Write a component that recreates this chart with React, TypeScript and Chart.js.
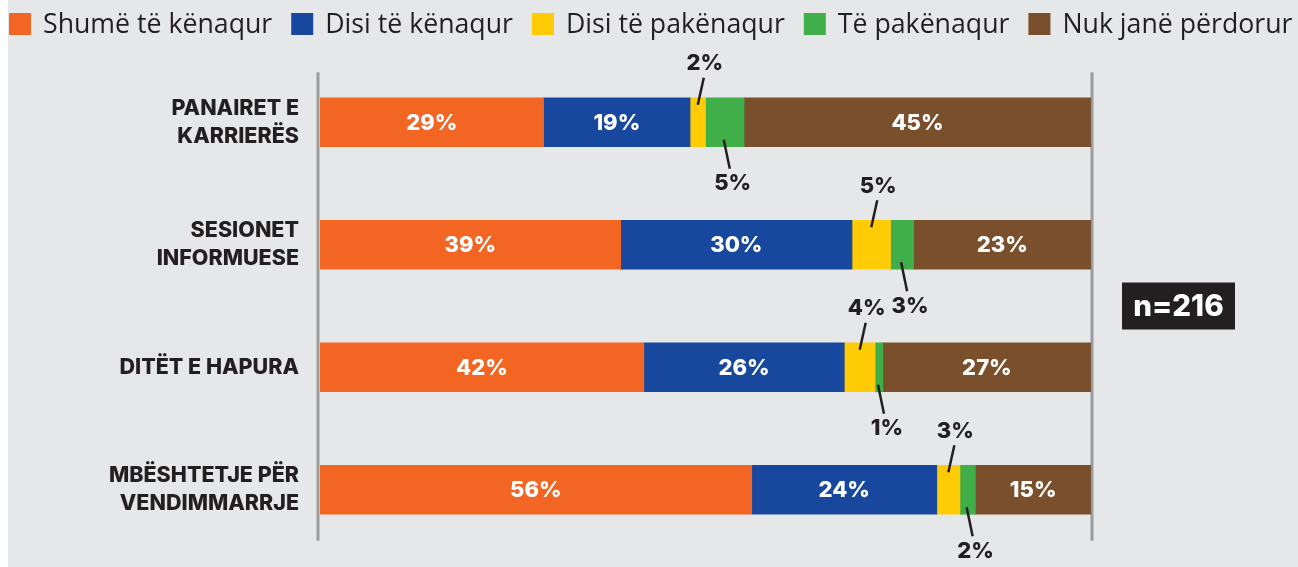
import { useEffect, useRef } from "react";
import { Chart, registerables } from "chart.js";
Chart.register(...registerables);

const categories = [
  ["PANAIRET E", "KARRIERËS"],
  ["SESIONET", "INFORMUESE"],
  ["DITËT E HAPURA"],
  ["MBËSHTETJE PËR", "VENDIMMARRJE"],
];
const seriesNames = ["Shumë të kënaqur", "Disi të kënaqur", "Disi të pakënaqur", "Të pakënaqur", "Nuk janë përdorur"];
const shumeKenaqur = [29, 39, 42, 56];
const disiKenaqur = [19, 30, 26, 24];
const disiPakenaqur = [2, 5, 4, 3];
const tePakenaqur = [5, 3, 1, 2];
const nukPerdorur = [45, 23, 27, 15];
const seriesColors = ["#f36522", "#18479e", "#ffcb05", "#40ae49", "#7a4f2c"];
// where each series' value label goes: inside the bar, above it or below it
const labelPlacement = ["inside", "inside", "above", "below", "inside"];
const sampleLabel = "n=216";

const BG = "#e6e7e9";
const INK = "#231f20";
const BOLD = "Inter, 'Liberation Sans', Arial, sans-serif";
const REG = "'Open Sans', sans-serif";

const bgPlugin = {
  id: "bg",
  beforeDraw(chart: any) {
    const { ctx, width, height } = chart;
    ctx.save();
    ctx.fillStyle = BG;
    ctx.fillRect(0, 0, width, height);
    ctx.restore();
  },
};

const legendPlugin = {
  id: "customLegend",
  afterDraw(chart: any) {
    const { ctx } = chart;
    ctx.save();
    ctx.font = `26.7px ${REG}`;
    ctx.textBaseline = "alphabetic";
    ctx.textAlign = "left";
    let x = 1;
    chart.data.datasets.forEach((ds: any) => {
      ctx.fillStyle = ds.backgroundColor;
      ctx.fillRect(x, 13, 22, 22);
      x += 22 + 12;
      ctx.fillStyle = INK;
      ctx.fillText(ds.label, x, 33);
      x += ctx.measureText(ds.label).width + 19;
    });
    ctx.restore();
  },
};

const axisLinesPlugin = {
  id: "axisLines",
  beforeDatasetsDraw(chart: any) {
    const { ctx, chartArea, scales } = chart;
    const y = scales.y;
    const top = y.getPixelForValue(0) - 50;
    const bottom = y.getPixelForValue(categories.length - 1) + 51;
    ctx.save();
    ctx.strokeStyle = "#9a9ba0";
    ctx.lineWidth = 3;
    [chartArea.left - 2, chartArea.right + 1].forEach((lx: number) => {
      ctx.beginPath();
      ctx.moveTo(lx, top);
      ctx.lineTo(lx, bottom);
      ctx.stroke();
    });
    ctx.restore();
  },
};

const valueLabelsPlugin = {
  id: "valueLabels",
  afterDatasetsDraw(chart: any) {
    const { ctx } = chart;
    ctx.save();
    chart.data.datasets.forEach((ds: any, di: number) => {
      const meta = chart.getDatasetMeta(di);
      meta.data.forEach((el: any, i: number) => {
        const v = ds.data[i];
        const p = el.getProps(["x", "y", "base", "height"], true);
        const cx = (p.x + p.base) / 2;
        const top = p.y - p.height / 2;
        const bottom = p.y + p.height / 2;
        const txt = `${v}%`;
        ctx.textAlign = "center";
        ctx.textBaseline = "middle";
        const place = labelPlacement[di];
        if (place === "inside") {
          ctx.font = `800 22px ${BOLD}`;
          ctx.fillStyle = "#ffffff";
          ctx.fillText(txt, cx, p.y + 1);
        } else {
          ctx.strokeStyle = INK;
          ctx.lineWidth = 2.5;
          ctx.fillStyle = INK;
          ctx.font = `800 22px ${BOLD}`;
          ctx.beginPath();
          if (place === "above") {
            ctx.moveTo(cx, top + 7);
            ctx.lineTo(cx + 6, top - 20);
            ctx.stroke();
            ctx.fillText(txt, cx + 7, top - 34);
          } else {
            ctx.moveTo(cx - 1, bottom - 7);
            ctx.lineTo(cx + 5, bottom + 22);
            ctx.stroke();
            ctx.fillText(txt, cx + 8, bottom + 37);
          }
        }
      });
    });
    ctx.restore();
  },
};

const sampleBoxPlugin = {
  id: "sampleBox",
  afterDraw(chart: any) {
    const { ctx, chartArea } = chart;
    const cy = (chartArea.top + chartArea.bottom) / 2;
    const left = chartArea.right + 31;
    const w = 113;
    const h = 47;
    ctx.save();
    ctx.fillStyle = INK;
    ctx.fillRect(left, cy - h / 2, w, h);
    ctx.fillStyle = "#ffffff";
    ctx.font = `800 29.5px ${BOLD}`;
    ctx.textAlign = "center";
    ctx.textBaseline = "middle";
    ctx.fillText(sampleLabel, left + w / 2, cy + 1);
    ctx.restore();
  },
};

export default function App() {
  const ref = useRef<HTMLCanvasElement | null>(null);
  useEffect(() => {
    if (!ref.current) return;
    const values = [shumeKenaqur, disiKenaqur, disiPakenaqur, tePakenaqur, nukPerdorur];
    const chart = new Chart(ref.current, {
      type: "bar",
      data: {
        labels: categories as any,
        datasets: values.map((d, i) => ({
          label: seriesNames[i],
          data: d,
          backgroundColor: seriesColors[i],
          borderWidth: 0,
          barThickness: 49,
          yAxisID: "y",
        })),
      },
      options: {
        indexAxis: "y",
        responsive: false,
        animation: false,
        devicePixelRatio: 1,
        layout: { padding: { top: 61, bottom: 14, left: 0, right: 0 } },
        plugins: { legend: { display: false }, tooltip: { enabled: false } },
        scales: {
          x: { stacked: true, min: 0, max: 100, display: false },
          y: {
            stacked: true,
            position: "left",
            grid: { display: false },
            border: { display: false },
            ticks: {
              padding: 13,
              color: INK,
              font: { family: BOLD, size: 21.5, weight: 800, lineHeight: 1.3 },
            },
            afterFit: (s: any) => {
              s.width = 312;
            },
          },
          y2: {
            type: "category",
            position: "right",
            display: true,
            grid: { display: false },
            border: { display: false },
            ticks: { display: false },
            afterFit: (s: any) => {
              s.width = 207;
            },
          },
        },
      } as any,
      plugins: [bgPlugin, axisLinesPlugin, valueLabelsPlugin, legendPlugin, sampleBoxPlugin],
    });
    return () => chart.destroy();
  }, []);
  return (
    <div style={{ position: "absolute", left: 8, top: 0, width: 1290, height: 567, overflow: "hidden", background: BG }}>
      <canvas ref={ref} width={1290} height={592} style={{ display: "block" }} />
    </div>
  );
}
